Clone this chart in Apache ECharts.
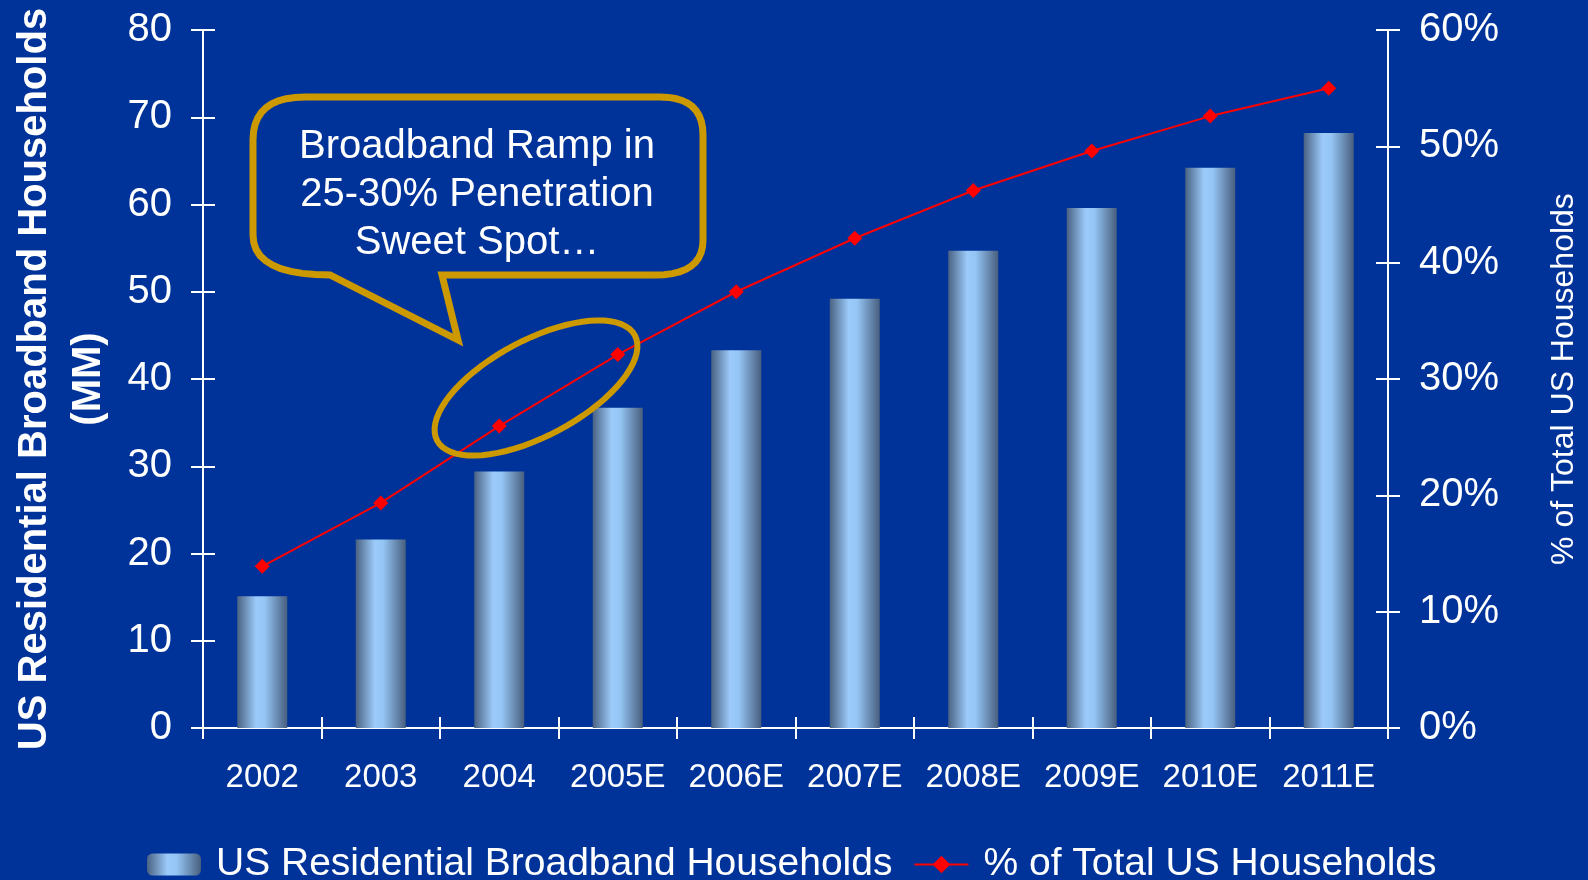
<!DOCTYPE html>
<html>
<head>
<meta charset="utf-8">
<script src="https://cdn.jsdelivr.net/npm/echarts@6/dist/echarts.min.js"></script>
<style>
html,body{margin:0;padding:0;background:#003399;}
#main{width:1588px;height:880px;}
</style>
</head>
<body>
<div id="main"></div>
<script>
// data
var years = ['2002','2003','2004','2005E','2006E','2007E','2008E','2009E','2010E','2011E'];
var households = [15.1, 21.6, 29.4, 36.7, 43.3, 49.2, 54.7, 59.6, 64.2, 68.2];   // MM
var penetration = [13.9, 19.35, 25.95, 32.1, 37.5, 42.1, 46.2, 49.6, 52.6, 55.0]; // %
var leftMax = 80, rightMax = 60, tickStep = 10;
var calloutText = 'Broadband Ramp in\n25-30% Penetration\nSweet Spot\u2026';

var font = '"Liberation Sans", Arial, sans-serif';
var gold = '#cc9900';

var chart = echarts.init(document.getElementById('main'));

var barColor = {
    type: 'linear', x: 0, y: 0, x2: 1, y2: 0,
    colorStops: [
        {offset: 0, color: '#4a6282'},
        {offset: 0.38, color: '#9ccbfb'},
        {offset: 0.55, color: '#94c5f4'},
        {offset: 1, color: '#485e7e'}
    ]
};

// outline helpers for the callout (plain polygons, sampled curves)
function quad(pts, p0, c, p1){
    for(var i=1;i<=10;i++){
        var t=i/10, u=1-t;
        pts.push([u*u*p0[0]+2*u*t*c[0]+t*t*p1[0], u*u*p0[1]+2*u*t*c[1]+t*t*p1[1]]);
    }
}
function bubblePoints(){
    var p=[[305,97]];
    p.push([660,97]);  quad(p,[660,97],[703,97],[703,135]);
    p.push([703,240]); quad(p,[703,240],[703,275],[655,275]);
    p.push([442,275]); p.push([458,340]); p.push([330,275]);
    quad(p,[330,275],[253,275],[253,235]);
    p.push([253,140]); quad(p,[253,140],[253,97],[305,97]);
    return p;
}
function ellipsePoints(rx, ry){
    var p=[];
    for(var i=0;i<72;i++){
        var a=i/72*Math.PI*2;
        p.push([rx*Math.cos(a), ry*Math.sin(a)]);
    }
    return p;
}

// one axis draws outward ticks + labels, a twin draws the inward half of the tick
function yAxisPair(pos, max, fmt, name, nameStyle, gap){
    var main = {
        type: 'value', position: pos, min: 0, max: max, interval: tickStep,
        axisLine: {show: true, lineStyle: {color: '#fff', width: 2}},
        axisTick: {show: true, length: 12, lineStyle: {color: '#fff', width: 2}},
        axisLabel: {color: '#fff', fontSize: 40, fontFamily: font, margin: 31, formatter: fmt, padding: [5, 0, 0, 0]},
        splitLine: {show: false},
        name: name, nameLocation: 'middle', nameRotate: 90, nameGap: gap,
        nameTextStyle: nameStyle
    };
    var twin = {
        type: 'value', position: pos, min: 0, max: max, interval: tickStep,
        axisLine: {show: false},
        axisTick: {show: true, inside: true, length: 12, lineStyle: {color: '#fff', width: 2}},
        axisLabel: {show: false},
        splitLine: {show: false}
    };
    return [main, twin];
}

var left = yAxisPair('left', leftMax, '{value}',
    'US Residential Broadband Households\n(MM)',
    {color: '#fff', fontSize: 40, fontWeight: 'bold', fontFamily: font, lineHeight: 54, align: 'center'}, 87);
var right = yAxisPair('right', rightMax, '{value}%',
    '% of Total US Households',
    {color: '#fff', fontSize: 32, fontFamily: font}, 160);

var option = {
    backgroundColor: '#003399',
    animation: false,
    grid: {left: 201, right: 199, top: 30, bottom: 152},
    legend: {
        left: 147, top: 845, padding: 0,
        itemWidth: 54, itemHeight: 22, itemGap: 21,
        textStyle: {color: '#fff', fontSize: 39, fontFamily: font, padding: [0, 0, 0, 10]},
        data: ['US Residential Broadband Households', '% of Total US Households']
    },
    xAxis: [
        {
            type: 'category', data: years, boundaryGap: true,
            axisLine: {lineStyle: {color: '#fff', width: 2}},
            axisTick: {show: true, interval: 0, length: 11, lineStyle: {color: '#fff', width: 2}},
            axisLabel: {color: '#fff', fontSize: 33, fontFamily: font, margin: 33, interval: 0}
        },
        {
            type: 'category', data: years, boundaryGap: true, position: 'bottom',
            axisLine: {show: false},
            axisTick: {show: true, inside: true, interval: 0, length: 11, lineStyle: {color: '#fff', width: 2}},
            axisLabel: {show: false}
        }
    ],
    yAxis: [left[0], right[0], left[1], right[1]],
    series: [
        {
            name: 'US Residential Broadband Households',
            type: 'bar', xAxisIndex: 0, yAxisIndex: 0,
            barWidth: 50,
            itemStyle: {color: barColor},
            data: households
        },
        {
            name: '% of Total US Households',
            type: 'line', xAxisIndex: 0, yAxisIndex: 1,
            symbol: 'diamond', symbolSize: 15,
            itemStyle: {color: '#ff0000'},
            lineStyle: {color: '#ff0000', width: 2},
            data: penetration
        }
    ],
    graphic: [
        {   // speech bubble
            type: 'polygon',
            shape: {points: bubblePoints()},
            style: {fill: 'none', stroke: gold, lineWidth: 7, lineJoin: 'miter'},
            z: 10
        },
        {
            type: 'text', x: 477, y: 195,
            style: {text: calloutText, fill: '#fff', fontSize: 40, fontFamily: font,
                    lineHeight: 48, textAlign: 'center', textVerticalAlign: 'middle'},
            z: 11
        },
        {   // ring round the 25-30% points
            type: 'polygon', x: 536, y: 388, rotation: 28 * Math.PI / 180,
            shape: {points: ellipsePoints(112, 48)},
            style: {fill: 'none', stroke: gold, lineWidth: 6},
            z: 10
        }
    ]
};
chart.setOption(option);
</script>
</body>
</html>
